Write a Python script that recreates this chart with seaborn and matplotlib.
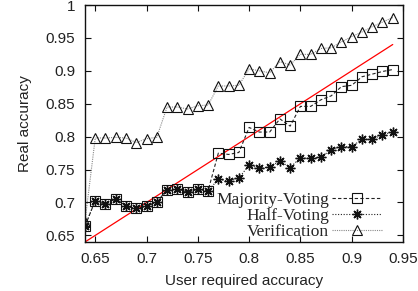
import numpy as np
import pandas as pd
import matplotlib
matplotlib.use("Agg")
import matplotlib.pyplot as plt
import seaborn as sns
from matplotlib.lines import Line2D

# user required accuracy (x axis)
required = [0.64, 0.65, 0.66, 0.67, 0.68, 0.69, 0.70, 0.71, 0.72, 0.73, 0.74,
            0.75, 0.76, 0.77, 0.78, 0.79, 0.80, 0.81, 0.82, 0.83, 0.84, 0.85,
            0.86, 0.87, 0.88, 0.89, 0.90, 0.91, 0.92, 0.93, 0.94]

majority = [0.664, 0.703, 0.697, 0.706, 0.694, 0.691, 0.694, 0.701, 0.719, 0.720, 0.716,
            0.720, 0.718, 0.775, 0.773, 0.776, 0.814, 0.807, 0.807, 0.827, 0.816, 0.846,
            0.846, 0.856, 0.862, 0.876, 0.878, 0.891, 0.895, 0.899, 0.902]

half = [0.664, 0.703, 0.697, 0.706, 0.694, 0.691, 0.694, 0.701, 0.719, 0.720, 0.716,
        0.720, 0.718, 0.735, 0.733, 0.737, 0.757, 0.752, 0.754, 0.763, 0.753, 0.768,
        0.767, 0.769, 0.780, 0.785, 0.785, 0.796, 0.796, 0.803, 0.807]

verification = [0.671, 0.798, 0.798, 0.799, 0.798, 0.791, 0.797, 0.799, 0.845, 0.845, 0.842,
                0.847, 0.848, 0.877, 0.877, 0.878, 0.903, 0.900, 0.897, 0.914, 0.909, 0.925,
                0.925, 0.934, 0.935, 0.944, 0.952, 0.959, 0.967, 0.974, 0.981]

x_ticks = [0.65, 0.7, 0.75, 0.8, 0.85, 0.9, 0.95]
x_labels = ["0.65", "0.7", "0.75", "0.8", "0.85", "0.9", "0.95"]
y_ticks = [0.65, 0.7, 0.75, 0.8, 0.85, 0.9, 0.95, 1.0]
y_labels = ["0.65", "0.7", "0.75", "0.8", "0.85", "0.9", "0.95", "1"]

sns.set_style("ticks")
plt.rcParams["font.family"] = ["Liberation Sans", "DejaVu Sans"]

df = pd.DataFrame({
    "required": required,
    "majority": majority,
    "half": half,
    "verification": verification,
})

fig, ax = plt.subplots(figsize=(4.18, 2.91), dpi=100)
fig.subplots_adjust(left=0.2033, right=0.9641, top=0.9828, bottom=0.1684)

# ideal line y = x
sns.lineplot(data=df, x="required", y="required", color="red", lw=0.9, ax=ax)

star = (8, 2, 0)
styles = {
    "majority": dict(color="#222222", ls=(0, (3, 2)), marker="s", ms=6.5, mew=0.8),
    "half": dict(color="#222222", ls=(0, (1, 1.5)), marker=star, ms=7, mew=1.0),
    "verification": dict(color="#888888", ls=(0, (1, 1)), marker="^", ms=6.5, mew=0.8),
}
for col, st in styles.items():
    sns.lineplot(data=df, x="required", y=col, ax=ax, lw=0.8, color=st["color"],
                 linestyle=st["ls"], marker=st["marker"], markersize=st["ms"],
                 markerfacecolor="none", markeredgecolor="#111111", markeredgewidth=st["mew"])

ax.set_xlim(0.64, 0.95)
ax.set_ylim(0.64, 1.0)
ax.set_xticks(x_ticks)
ax.set_xticklabels(x_labels)
ax.set_yticks(y_ticks)
ax.set_yticklabels(y_labels)
ax.tick_params(direction="in", top=True, right=True, length=4, width=0.8,
               labelsize=11, pad=7, colors="#111111", labelcolor="#222222")
for sp in ax.spines.values():
    sp.set_linewidth(1.0)
    sp.set_color("#111111")

ax.set_xlabel("User required accuracy", fontsize=11, color="#222222", labelpad=6)
ax.set_ylabel("Real accuracy", fontsize=11, color="#222222", labelpad=10)

handles = []
for col, st in styles.items():
    handles.append(Line2D([], [], lw=0.8, color=st["color"], linestyle=st["ls"],
                          marker=st["marker"], markersize=st["ms"], markerfacecolor="none",
                          markeredgecolor="#111111", markeredgewidth=st["mew"]))
ax.legend(handles, ["Majority-Voting", "Half-Voting", "Verification"],
          loc="lower right", bbox_to_anchor=(0.94, 0.0), frameon=False,
          markerfirst=False, handlelength=2.9, handletextpad=0.15,
          labelspacing=0.0, borderpad=0.1, borderaxespad=0.0,
          prop={"family": "Liberation Serif", "size": 12.5})

plt.savefig("out.png", dpi=100)
